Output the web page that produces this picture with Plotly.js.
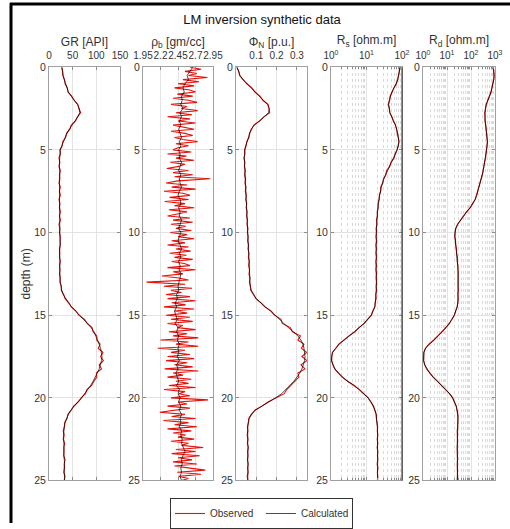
<!DOCTYPE html>
<html>
<head>
<meta charset="utf-8">
<script src="https://cdn.plot.ly/plotly-3.0.1.min.js"></script>
<style>html,body{margin:0;padding:0;background:#fff;}#chart{width:510px;height:529px;}</style>
</head>
<body>
<div id="chart"></div>
<script>
// ---------------- DATA ----------------
const depth = [0,0.25,0.5,0.75,1,1.25,1.5,1.75,2,2.25,2.5,2.75,3,3.25,3.5,3.75,4,4.25,4.5,4.75,5,5.25,5.5,5.75,6,6.25,6.5,6.75,7,7.25,7.5,7.75,8,8.25,8.5,8.75,9,9.25,9.5,9.75,10,10.25,10.5,10.75,11,11.25,11.5,11.75,12,12.25,12.5,12.75,13,13.25,13.5,13.75,14,14.25,14.5,14.75,15,15.25,15.5,15.75,16,16.25,16.5,16.75,17,17.25,17.5,17.75,18,18.25,18.5,18.75,19,19.25,19.5,19.75,20,20.25,20.5,20.75,21,21.25,21.5,21.75,22,22.25,22.5,22.75,23,23.25,23.5,23.75,24,24.25,24.5,24.75,25];

const depthFine = [0,0.125,0.25,0.375,0.5,0.625,0.75,0.875,1,1.125,1.25,1.375,1.5,1.625,1.75,1.875,2,2.125,2.25,2.375,2.5,2.625,2.75,2.875,3,3.125,3.25,3.375,3.5,3.625,3.75,3.875,4,4.125,4.25,4.375,4.5,4.625,4.75,4.875,5,5.125,5.25,5.375,5.5,5.625,5.75,5.875,6,6.125,6.25,6.375,6.5,6.625,6.75,6.875,7,7.125,7.25,7.375,7.5,7.625,7.75,7.875,8,8.125,8.25,8.375,8.5,8.625,8.75,8.875,9,9.125,9.25,9.375,9.5,9.625,9.75,9.875,10,10.125,10.25,10.375,10.5,10.625,10.75,10.875,11,11.125,11.25,11.375,11.5,11.625,11.75,11.875,12,12.125,12.25,12.375,12.5,12.625,12.75,12.875,13,13.125,13.25,13.375,13.5,13.625,13.75,13.875,14,14.125,14.25,14.375,14.5,14.625,14.75,14.875,15,15.125,15.25,15.375,15.5,15.625,15.75,15.875,16,16.125,16.25,16.375,16.5,16.625,16.75,16.875,17,17.125,17.25,17.375,17.5,17.625,17.75,17.875,18,18.125,18.25,18.375,18.5,18.625,18.75,18.875,19,19.125,19.25,19.375,19.5,19.625,19.75,19.875,20,20.125,20.25,20.375,20.5,20.625,20.75,20.875,21,21.125,21.25,21.375,21.5,21.625,21.75,21.875,22,22.125,22.25,22.375,22.5,22.625,22.75,22.875,23,23.125,23.25,23.375,23.5,23.625,23.75,23.875,24,24.125,24.25,24.375,24.5,24.625,24.75,24.875,25];

const grObs = [27,29,29,33,34,39,40,48,53,61,63,67,60,56,47,44,37,35,29,28,23,24,21,
 23,21,24,22,23,21,24,22,24,21,23,22,24,22,24,21,23,22,24,23,24,22,23,22,24,22,23,22,24,
 23,26,26,31,34,42,47,57,63,75,81,91,93,101,101,108,104,114,109,115,106,111,100,101,95,90,80,77,68,62,52,47,40,38,33,33,30,
 32,30,33,31,32,31,34,32,33,31,34,32];
const grCalc = [27,28,30,32,35,38,41,47,54,60,64,65,61,55,48,43,38,34,30,27,24,23,22,
 22,22,23,23,22,22,23,23,23,22,22,23,23,23,23,22,22,23,23,24,23,23,22,23,23,23,22,23,23,
 24,25,27,30,35,41,48,56,64,73,82,89,95,99,103,106,109,111,112,111,109,106,102,98,93,88,82,76,69,61,53,46,41,37,34,32,31,
 31,31,32,32,31,32,33,33,32,32,33,33];

const rhoObs = [2.62,2.78,2.55,2.72,2.6,2.87,2.52,2.75,
 2.45,2.68,2.4,2.62,2.7,2.44,2.66,2.38,
 2.6,2.72,2.35,2.58,2.5,2.73,2.42,2.65,
 2.3,2.62,2.45,2.7,2.38,2.56,2.68,2.35,
 2.55,2.66,2.4,2.52,2.73,2.42,2.6,2.45,
 2.38,2.64,2.3,2.57,2.42,2.68,2.34,2.55,
 2.46,2.29,2.6,2.38,2.66,2.4,2.91,2.45,
 2.28,2.58,2.36,2.7,2.25,2.52,2.62,2.33,
 2.6,2.26,2.55,2.4,2.68,2.32,2.58,2.44,
 2.3,2.62,2.38,2.66,2.35,2.56,2.42,2.64,
 2.34,2.58,2.45,2.68,2.36,2.55,2.3,2.6,
 2.42,2.63,2.33,2.57,2.4,2.66,2.36,2.54,
 2.62,2.3,2.7,2.38,2.52,2.22,2.46,2.6,
 2.0,2.55,2.25,2.65,2.35,2.5,2.28,2.62,
 2.3,2.7,2.36,2.56,2.25,2.68,2.4,2.58,
 2.28,2.62,2.35,2.66,2.3,2.52,2.44,2.7,
 2.32,2.58,2.38,2.74,2.2,2.6,2.42,2.74,
 2.16,2.55,2.35,2.62,2.3,2.68,2.28,2.58,
 2.4,2.66,2.26,2.74,2.38,2.52,2.3,2.64,
 2.42,2.6,2.32,2.7,2.25,2.55,2.46,2.62,
 2.35,2.88,2.45,2.58,2.3,2.62,2.38,2.19,
 2.55,2.36,2.7,2.24,2.6,2.4,2.72,2.3,
 2.64,2.38,2.56,2.45,2.68,2.35,2.6,2.5,
 2.81,2.42,2.7,2.36,2.76,2.45,2.65,2.38,
 2.72,2.4,2.62,2.84,2.44,2.78,2.46,2.6,
 2.5];
const rhoCalc = [2.66,2.62,2.58,2.6,2.55,2.52,2.54,2.5,2.51,2.49,2.52,2.48,2.5,
 2.47,2.49,2.46,2.48,2.5,2.47,2.49,2.46,2.48,2.47,2.5,2.48,2.46,2.49,2.47,2.48,2.5,2.47,2.45,2.48,2.49,2.46,2.48,2.47,2.5,2.48,2.46,2.49,2.47,2.45,2.48,2.5,2.47,2.49,2.46,2.48,2.47,2.49,2.48,
 2.47,2.45,2.46,2.43,2.44,2.41,2.43,2.40,2.42,2.44,2.41,2.45,2.43,2.46,2.44,2.47,2.45,
 2.46,2.44,2.47,2.43,2.45,2.42,2.44,2.46,2.43,2.47,2.45,2.48,2.46,2.49,2.47,2.5,2.48,2.49,2.47,2.5,
 2.49,2.51,2.5,2.53,2.55,2.52,2.5,2.51,2.49,2.5,2.48,2.5];

const phiObs = [0.004,0.014,0.018,0.037,0.053,0.078,0.093,0.118,0.132,0.158,0.162,0.166,0.137,0.118,0.088,0.077,0.066,0.064,0.053,0.05,0.042,0.044,0.039,
 0.044,0.041,0.046,0.042,0.047,0.044,0.049,0.046,0.051,0.048,0.053,0.050,0.055,0.052,0.057,0.054,0.059,0.056,0.060,0.057,0.062,0.059,0.064,0.061,0.066,0.062,0.067,0.064,0.069,
 0.066,0.072,0.073,0.088,0.098,0.123,0.142,0.174,0.19,0.222,0.228,0.268,0.278,0.318,0.305,0.335,0.322,0.348,0.325,0.35,0.32,0.34,0.305,0.31,0.29,0.275,0.25,0.238,0.198,0.158,0.127,0.093,0.077,0.063,0.062,
 0.056,0.059,0.055,0.059,0.056,0.061,0.057,0.059,0.056,0.06,0.057,0.06,0.055,0.059];
const phiCalc = [0.005,0.012,0.02,0.035,0.055,0.075,0.095,0.115,0.135,0.155,0.165,0.16,0.14,0.115,0.09,0.075,0.068,0.062,0.055,0.048,0.044,0.042,0.041,
 0.042,0.043,0.044,0.044,0.045,0.046,0.047,0.048,0.049,0.050,0.051,0.052,0.053,0.054,0.055,0.056,0.057,0.058,0.058,0.059,0.060,0.061,0.062,0.063,0.064,0.064,0.065,0.066,0.067,
 0.068,0.07,0.075,0.085,0.10,0.12,0.145,0.17,0.195,0.215,0.235,0.26,0.285,0.305,0.32,0.33,0.335,0.338,0.34,0.338,0.333,0.325,0.315,0.30,0.285,0.265,0.245,0.225,0.195,0.16,0.125,0.095,0.075,0.065,0.06,
 0.058,0.057,0.058,0.057,0.058,0.059,0.058,0.057,0.058,0.059,0.058,0.058,0.057,0.058];

const rsObs = [89,84,83,75,70,59,53,46,45,41,44,45,52,57,66,70,77,78,83,78,73,64,59,
 49,45,37,35,30,29,25,25,23,22.8,21,21.3,20,20.5,
 19,19.8,18.6,19.3,18.4,19.5,18.3,19,18.4,19.4,18.3,19.1,18.4,19.3,18.7,
 19.4,18.6,19.2,18.2,18.7,17.4,17.3,15.1,13.8,10.7,8.7,6.1,4.7,3.2,2.35,1.66,1.38,1.09,1.06,1.03,1.15,1.27,1.64,2.05,2.95,4.5,6.4,8.3,11.2,13.2,15.8,17.1,18.9,19,20.1,
 20.6,20.1,20.9,20,20.8,19.9,20.9,20.3,20.8,19.9,21,20.2,20.8,20.3];
const rsCalc = [87,85,81,76,69,60,52,47,44,42,43,46,51,58,65,71,76,79,81,79,72,65,58,
 50,44,38,34,31,28,26,24.5,23.4,22.4,21.4,20.9,20.4,20,
 19.5,19.2,19,18.8,18.9,19,18.7,18.6,18.8,18.9,18.7,18.6,18.8,18.9,19,
 19,19,18.8,18.6,18.3,17.8,17,15.5,13.5,11,8.5,6.3,4.6,3.3,2.3,1.7,1.35,1.12,1.04,1.05,1.12,1.3,1.6,2.1,2.9,4.6,6.3,8.5,11,13.5,15.5,17.4,18.6,19.3,19.8,
 20.2,20.5,20.3,20.6,20.4,20.2,20.5,20.7,20.4,20.3,20.6,20.5,20.4,20.6];

const rdObs = [860,880,925,880,840,750,685,580,510,430,405,372,386,383,413,430,462,472,486,462,452,420,404,366,352,318,299,265,249,215,198,171,150,118,93,65,49,35,28,23,21.8,21,22.8,23,25,25.2,27.4,27,28.6,
 28.3,29.9,29,29.3,29,30,28.4,29.6,
 27.8,26.7,23,20.4,15.9,12.8,8.9,6.4,4.2,2.87,1.75,1.28,1.08,1.06,1.05,1.19,1.42,1.95,2.64,4.05,5.9,9.3,12.7,17.3,20.6,24.4,26,28.6,28.4,28.6,
 27.9,26.6,27.4,26.9,27.5,26.6,27.3,26.7,27.6,26.8,27.3,26.9,27.6,26.8];
const rdCalc = [851,891,912,891,832,759,676,589,501,437,398,380,380,389,407,437,457,479,479,468,447,427,398,372,347,324,295,269,245,219,195,174,148,120,91,66,48,35.5,27.5,23.4,21.4,21.4,22.4,23.4,24.5,25.7,26.9,27.5,28.2,
 28.8,29.5,29.5,28.8,29.5,29.5,28.8,29.2,
 28.2,26.3,23.4,20,16.2,12.6,9.1,6.3,4.27,2.82,1.78,1.26,1.10,1.05,1.07,1.17,1.45,1.91,2.69,3.98,6.03,9.12,12.9,17,20.9,24,26.3,28.2,28.8,28.2,
 27.5,27,26.9,27.3,26.8,27.1,26.9,27.2,26.7,27,26.9,27.2,26.8,27];

const depthTicks = [0,5,10,15,20,25];
const grTicks = [0,50,100,150];
const rhoTicks = [1.95,2.2,2.45,2.7,2.95];
const rhoTickText = ['1.95','2.2','2.45','2.7','2.95'];
const phiTicks = [0.1,0.2,0.3];
const rsTicks = [1,10,100];
const rsTickText = ['10<sup>0</sup>','10<sup>1</sup>','10<sup>2</sup>'];
const rdTicks = [1,10,100,1000];
const rdTickText = ['10<sup>0</sup>','10<sup>1</sup>','10<sup>2</sup>','10<sup>3</sup>'];

const panelTitles = ['GR [API]','ρ<sub>b</sub> [gm/cc]','Φ<sub>N</sub> [p.u.]','R<sub>s</sub> [ohm.m]','R<sub>d</sub> [ohm.m]'];
const chartTitle = 'LM inversion synthetic data';
const depthLabel = 'depth (m)';
const seriesNames = ['Observed','Calculated'];

// ---------------- LAYOUT ----------------
const W = 510, H = 529;
const px = v => v / W;
const py = v => 1 - v / H;
const FONT = 'Liberation Sans, Arial, Helvetica, sans-serif';
const TXT = '#333333';
const OBS_COLOR = '#e3120b';
const CALC_COLOR = '#000000';

const panelPx = [[49,120],[143,213],[236,307],[331,402],[423,495]];
const yDom = [py(486), py(68)];

const logMinor = (decades) => {
  const v = [];
  for (let d = 0; d < decades; d++) for (let m = 2; m <= 9; m++) v.push(m * Math.pow(10, d));
  return v;
};

const panels = [
  {obs: grObs, calc: grCalc, obsDepth: depth, type: 'linear', range: [0,150], tickvals: grTicks, ticktext: grTicks.map(String)},
  {obs: rhoObs, calc: rhoCalc, obsDepth: depthFine, type: 'linear', range: [1.95,2.95], tickvals: rhoTicks, ticktext: rhoTickText},
  {obs: phiObs, calc: phiCalc, obsDepth: depth, type: 'linear', range: [0,0.35], tickvals: phiTicks, ticktext: ['0.1','0.2','0.3']},
  {obs: rsObs, calc: rsCalc, obsDepth: depth, type: 'log', range: [0,2], tickvals: rsTicks, ticktext: rsTickText, minor: logMinor(2), rightLine: true},
  {obs: rdObs, calc: rdCalc, obsDepth: depth, type: 'log', range: [0,3], tickvals: rdTicks, ticktext: rdTickText, minor: logMinor(3)}
];

const traces = [];
const layout = {
  width: W, height: H,
  margin: {l:0, r:0, t:0, b:0},
  paper_bgcolor: '#ffffff',
  plot_bgcolor: '#ffffff',
  font: {family: FONT, size: 10, color: TXT},
  showlegend: true,
  hovermode: false,
  title: {text: chartTitle, x: px(262), xanchor: 'center', xref: 'paper', y: py(20), yanchor: 'middle', yref: 'paper',
          font: {family: FONT, size: 13, color: '#111'}},
  legend: {orientation: 'h', x: px(170), y: py(504), xanchor: 'left', yanchor: 'top',
           bgcolor: '#ffffff', bordercolor: '#333', borderwidth: 1,
           font: {family: FONT, size: 10, color: TXT}, itemwidth: 30, entrywidth: 46, tracegroupgap: 0},
  shapes: [
    {type: 'line', xref: 'paper', yref: 'paper', x0: px(11), x1: px(11), y0: py(3), y1: py(529), line: {color: '#000', width: 3}},
    {type: 'line', xref: 'paper', yref: 'paper', x0: px(10), x1: px(510), y0: py(4), y1: py(4), line: {color: '#000', width: 3}}
  ]
};

panels.forEach((p, i) => {
  const k = i + 1;
  const xa = 'x' + (k > 1 ? k : '');
  const ya = 'y' + (k > 1 ? k : '');
  traces.push({x: p.obs, y: p.obsDepth, xaxis: xa, yaxis: ya, type: 'scatter', mode: 'lines',
               name: seriesNames[0], showlegend: k === 1, legendgroup: 'obs',
               line: {color: OBS_COLOR, width: 1.1}});
  traces.push({x: p.calc, y: depth, xaxis: xa, yaxis: ya, type: 'scatter', mode: 'lines',
               name: seriesNames[1], showlegend: k === 1, legendgroup: 'calc',
               line: {color: CALC_COLOR, width: 0.7}});

  const xaxis = {
    domain: [px(panelPx[i][0]), px(panelPx[i][1])],
    anchor: ya, side: 'top', type: p.type, range: p.range,
    tickmode: 'array', tickvals: p.tickvals, ticktext: p.ticktext, tickangle: 0,
    ticks: 'inside', ticklen: 3, tickcolor: '#8a8a8a', ticklabelstandoff: 3,
    showline: true, linecolor: '#a0a0a0', linewidth: 1, mirror: 'ticks',
    showgrid: true, gridcolor: '#e3e3e3', gridwidth: 1, zeroline: false,
    tickfont: {family: FONT, size: 10, color: TXT},
    title: {text: panelTitles[i], font: {family: FONT, size: 12, color: TXT}, standoff: 1},
    fixedrange: true
  };
  if (p.minor) {
    xaxis.minor = {tickmode: 'array', tickvals: p.minor, showgrid: true, gridcolor: '#dadada',
                   griddash: 'dot', gridwidth: 1, ticks: 'inside', ticklen: 2, tickcolor: '#8a8a8a'};
  }
  const yaxis = {
    domain: yDom, anchor: xa, range: [25, 0],
    tickmode: 'array', tickvals: depthTicks,
    ticks: 'inside', ticklen: 3, tickcolor: '#8a8a8a',
    showline: true, linecolor: '#a0a0a0', linewidth: 1, mirror: 'ticks',
    showgrid: true, gridcolor: '#e3e3e3', zeroline: false,
    tickfont: {family: FONT, size: 10.5, color: TXT},
    fixedrange: true
  };
  if (k === 1) yaxis.title = {text: depthLabel, font: {family: FONT, size: 12, color: TXT}, standoff: 0};
  layout['xaxis' + (k > 1 ? k : '')] = xaxis;
  layout['yaxis' + (k > 1 ? k : '')] = yaxis;
  if (p.rightLine) {
    layout.shapes.push({type: 'line', xref: xa + ' domain', yref: ya + ' domain', x0: 1, x1: 1, y0: 0, y1: 1,
                        line: {color: '#222', width: 1}});
  }
});

Plotly.newPlot('chart', traces, layout, {staticPlot: true, displayModeBar: false});
</script>
</body>
</html>
